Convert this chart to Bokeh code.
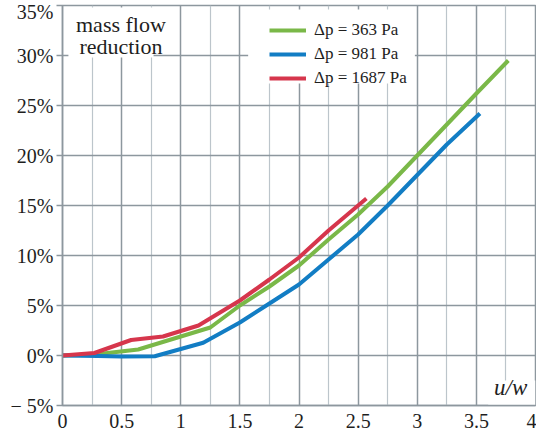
from bokeh.plotting import figure
from bokeh.models import FixedTicker, Legend, LegendItem, Range1d, Label
from bokeh.embed import file_html
from bokeh.resources import INLINE

# ---- data ----
green_x = [0, 0.27, 0.64, 1.25, 1.5, 1.75, 2.0, 2.25, 2.5, 2.75, 3.0, 3.25, 3.5, 3.77]
green_y = [0, 0.1, 0.6, 2.8, 5.0, 6.9, 9.0, 11.6, 14.1, 16.9, 20.0, 23.1, 26.2, 29.5]

blue_x = [0, 0.3, 0.5, 0.78, 1.19, 1.5, 1.75, 2.0, 2.25, 2.5, 2.75, 3.0, 3.25, 3.53]
blue_y = [0, -0.05, -0.1, -0.07, 1.28, 3.3, 5.2, 7.1, 9.6, 12.1, 15.0, 18.05, 21.1, 24.2]

red_x = [0, 0.27, 0.58, 0.85, 1.15, 1.5, 1.75, 2.0, 2.25, 2.57]
red_y = [0, 0.25, 1.55, 1.9, 3.0, 5.5, 7.6, 9.8, 12.5, 15.7]

series_labels = ["\u0394p = 363 Pa", "\u0394p = 981 Pa", "\u0394p = 1687 Pa"]

x_ticks = [0, 0.5, 1, 1.5, 2, 2.5, 3, 3.5, 4]
x_tick_labels = ["0", "0.5", "1", "1.5", "2", "2.5", "3", "3.5", "4"]
x_minor = [0.25, 0.75, 1.25, 1.75, 2.25, 2.75, 3.25, 3.75]
y_ticks = [-5, 0, 5, 10, 15, 20, 25, 30, 35]
y_tick_labels = ["\u2212 5%", "0%", "5%", "10%", "15%", "20%", "25%", "30%", "35%"]

# ---- styling ----
FONT = "Liberation Serif"
MAJOR = "#8d979e"
MINOR = "#bcc5cb"
GREEN = "#7ab848"
BLUE = "#127dc4"
RED = "#d6364c"
INK = "#1e1e1e"

p = figure(width=536, height=430, output_backend="svg", toolbar_location=None,
           x_range=Range1d(0, 4), y_range=Range1d(-5, 35),
           min_border_left=62, min_border_top=5, min_border_right=1, min_border_bottom=0,
           background_fill_color="white", border_fill_color="white")

p.outline_line_color = MAJOR
p.outline_line_width = 1.5

xt = FixedTicker(ticks=x_ticks, minor_ticks=x_minor)
yt = FixedTicker(ticks=y_ticks)
p.xaxis.ticker = xt
p.yaxis.ticker = yt
p.xaxis.major_label_overrides = {t: l for t, l in zip(x_ticks, x_tick_labels)}
p.yaxis.major_label_overrides = {t: l for t, l in zip(y_ticks, y_tick_labels)}

for ax in (p.xaxis, p.yaxis):
    ax.axis_line_color = MAJOR
    ax.axis_line_width = 1.5
    ax.major_tick_line_color = MAJOR
    ax.major_tick_line_width = 1.5
    ax.major_tick_in = 0
    ax.minor_tick_in = 0
    ax.minor_tick_out = 0
    ax.major_label_text_font = FONT
    ax.major_label_text_font_size = "20px"
    ax.major_label_text_color = INK

p.xaxis.major_tick_out = 0
p.xaxis.major_label_standoff = 8
p.yaxis.major_tick_out = 6
p.yaxis.major_label_standoff = 3

p.xgrid.ticker = xt
p.ygrid.ticker = yt
p.xgrid.grid_line_color = MAJOR
p.xgrid.grid_line_width = 1.5
p.xgrid.minor_grid_line_color = MINOR
p.xgrid.minor_grid_line_width = 1.2
p.ygrid.grid_line_color = MAJOR
p.ygrid.grid_line_width = 1.5

# white boxes behind the texts / legend
p.quad(left=[0.05], right=[0.77], bottom=[29.8], top=[34.8], fill_color="white", line_color=None)
p.quad(left=[1.57], right=[2.98], bottom=[27.2], top=[34.6], fill_color="white", line_color=None)
p.quad(left=[3.6], right=[4.0], bottom=[-5.0], top=[-2.5], fill_color="white", line_color=None)

rg = p.line(green_x, green_y, line_color=GREEN, line_width=4)
rb = p.line(blue_x, blue_y, line_color=BLUE, line_width=4)
rr = p.line(red_x, red_y, line_color=RED, line_width=4)

legend = Legend(items=[LegendItem(label=series_labels[0], renderers=[rg]),
                       LegendItem(label=series_labels[1], renderers=[rb]),
                       LegendItem(label=series_labels[2], renderers=[rr])],
                location=(207, 317), orientation="vertical",
                background_fill_alpha=0, border_line_alpha=0,
                glyph_width=37, glyph_height=20, label_height=20, spacing=4,
                padding=0, margin=0, label_standoff=8,
                label_text_font=FONT, label_text_font_size="17px",
                label_text_color=INK)
p.add_layout(legend, "center")

p.add_layout(Label(x=0.494, y=33.13, text="mass flow", text_align="center",
                   text_baseline="alphabetic", text_font=FONT, text_font_size="22px",
                   text_color=INK))
p.add_layout(Label(x=0.494, y=30.94, text="reduction", text_align="center",
                   text_baseline="alphabetic", text_font=FONT, text_font_size="22px",
                   text_color=INK))
p.add_layout(Label(x=3.79, y=-3.15, text="u/w", text_align="center",
                   text_baseline="middle", text_font=FONT, text_font_size="23px",
                   text_font_style="italic", text_color=INK))

open("out.html", "w").write(file_html(p, INLINE))
